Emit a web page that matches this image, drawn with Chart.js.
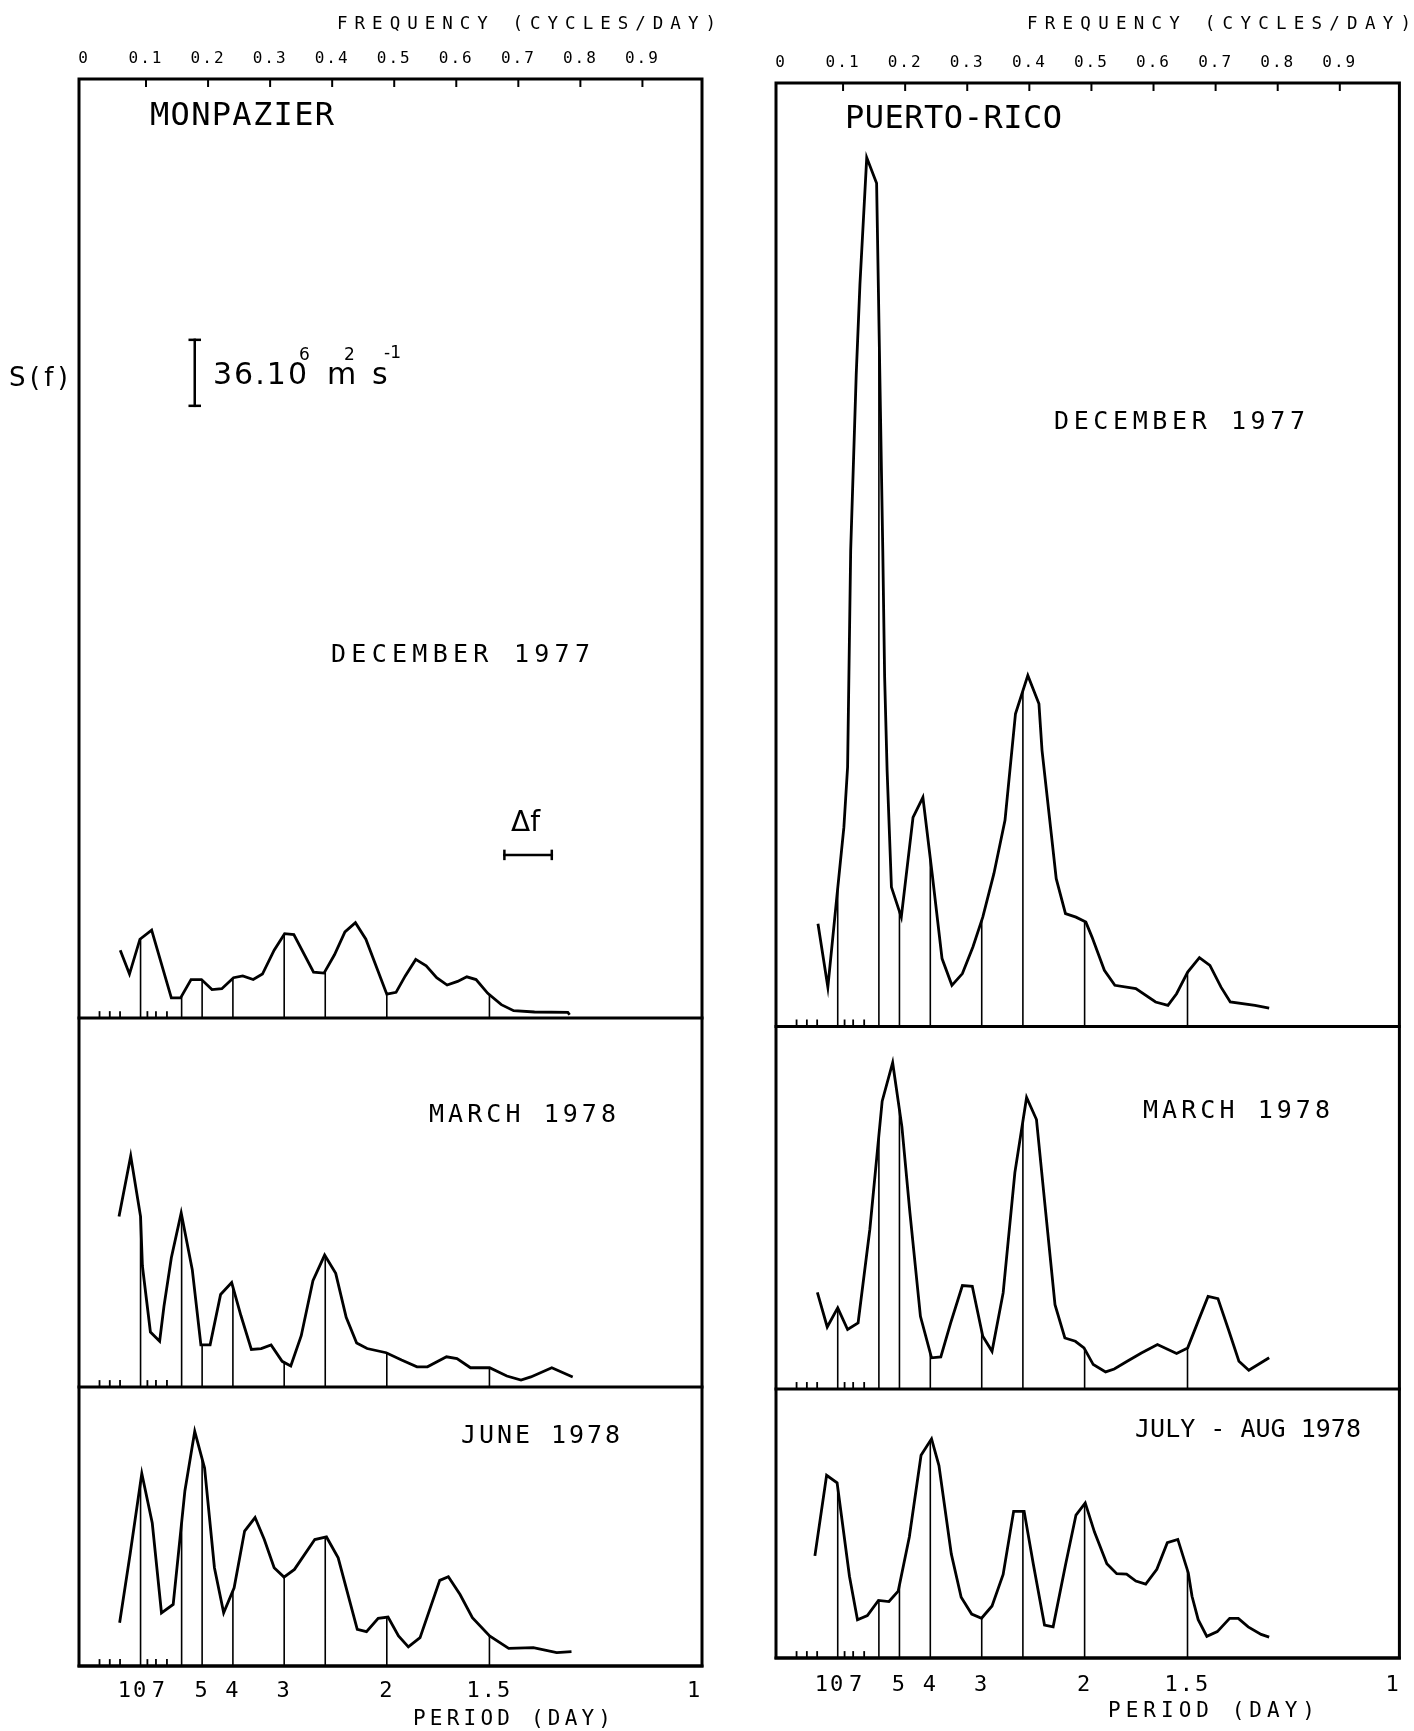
<!DOCTYPE html>
<html>
<head>
<meta charset="utf-8">
<script src="https://cdn.jsdelivr.net/npm/chart.js@4.4.1/dist/chart.umd.min.js"></script>
<style>
  body { margin: 0; background: #fff; width: 1414px; height: 1731px; position: relative; overflow: hidden; }
  .wrap { position: absolute; top: 0; height: 1731px; }
  .lbl { position: absolute; white-space: nowrap; color: #000; line-height: 1; font-family: "DejaVu Sans Mono", monospace; }
  .sans { font-family: "DejaVu Sans", sans-serif; }
</style>
</head>
<body>
<div class="wrap" style="left:0;width:720px"><canvas id="monpazier"></canvas></div>
<div class="wrap" style="left:720px;width:694px"><canvas id="puertoRico"></canvas></div>
<script>
// axis ticks
const freqTicks = [0, 0.1, 0.2, 0.3, 0.4, 0.5, 0.6, 0.7, 0.8, 0.9];
const periodTicks = [10, 7, 5, 4, 3, 2, 1.5, 1];
const periodLabels = ['10 ', '7 ', '5', '4', '3', '2', '1.5', '1'];
const minorPeriods = [30, 20, 15, 9, 8, 7];
// frequencies where the spectra are marked with a vertical line
const dropFreqs = [0.1, 0.1667, 0.2, 0.25, 0.3333, 0.4, 0.5, 0.6667];

// S(f), units of 10^6 m2 s-1
const monDecFreq = [0.067, 0.082, 0.099, 0.118, 0.150, 0.165, 0.182, 0.199, 0.216, 0.232, 0.251, 0.266, 0.283, 0.298, 0.317, 0.334, 0.349, 0.381, 0.398, 0.415, 0.432, 0.449, 0.466, 0.500, 0.515, 0.530, 0.547, 0.564, 0.581, 0.598, 0.615, 0.630, 0.645, 0.664, 0.686, 0.706, 0.740, 0.794, 0.797];
const monDecS = [37, 24, 43, 48, 11, 11, 21, 21, 15.5, 16, 22, 23, 21, 24, 37, 46, 45.5, 25, 24.5, 34.5, 47, 52, 43, 13, 14, 23, 32, 28.5, 22, 18, 20, 22.5, 21, 13.5, 7.3, 4, 3.3, 3.1, 1.8];

const monMarFreq = [0.065, 0.084, 0.100, 0.103, 0.116, 0.131, 0.138, 0.150, 0.166, 0.184, 0.198, 0.213, 0.230, 0.248, 0.263, 0.280, 0.296, 0.312, 0.330, 0.344, 0.361, 0.380, 0.399, 0.417, 0.434, 0.451, 0.468, 0.499, 0.524, 0.549, 0.566, 0.597, 0.614, 0.636, 0.667, 0.695, 0.718, 0.734, 0.768, 0.802];
const monMarS = [93, 126, 93, 66, 30, 25, 44, 70.5, 95, 64, 23, 23, 50.5, 57, 39, 20.5, 21, 23, 14, 11.5, 28, 58, 72, 62, 38, 24, 21, 18.7, 14.7, 11, 11, 16.5, 15.5, 10.5, 10.5, 6, 3.8, 5.5, 10.5, 5.5];

const monJunFreq = [0.066, 0.083, 0.102, 0.119, 0.134, 0.153, 0.172, 0.188, 0.204, 0.220, 0.235, 0.252, 0.269, 0.286, 0.301, 0.317, 0.333, 0.350, 0.383, 0.402, 0.421, 0.452, 0.467, 0.486, 0.502, 0.519, 0.535, 0.554, 0.586, 0.600, 0.619, 0.639, 0.667, 0.698, 0.738, 0.776, 0.800];
const monJunS = [23.6, 61, 105, 78, 29, 33.6, 95.5, 128, 108, 53.6, 29, 42.7, 73.6, 81, 69, 53.6, 48.5, 52.7, 69, 70.4, 59, 20, 18.7, 26, 26.7, 16.4, 10.4, 15.5, 46.7, 48.7, 39, 26.4, 16.4, 9.6, 10, 7.3, 7.8];

const prDecFreq = [0.068, 0.084, 0.098, 0.110, 0.116, 0.121, 0.130, 0.136, 0.147, 0.163, 0.173, 0.176, 0.180, 0.187, 0.203, 0.222, 0.238, 0.253, 0.269, 0.285, 0.302, 0.319, 0.335, 0.353, 0.371, 0.388, 0.408, 0.426, 0.431, 0.446, 0.454, 0.469, 0.486, 0.502, 0.512, 0.532, 0.549, 0.583, 0.615, 0.635, 0.649, 0.667, 0.686, 0.703, 0.721, 0.736, 0.776, 0.799];
const prDecS = [56, 21.4, 68.7, 108.7, 141.5, 259.7, 356, 405, 474, 460, 259.7, 190.6, 139.7, 76, 59.6, 114, 125, 83.3, 37, 22.4, 28.8, 43.3, 59.6, 83.3, 112.4, 170.6, 191.5, 176, 150.6, 105, 80.6, 61.5, 59.6, 56.9, 48.7, 30.6, 22.4, 20.6, 13.3, 11.5, 17.8, 29.6, 37.5, 33.3, 21.4, 13.3, 11.5, 10];

const prMarFreq = [0.067, 0.083, 0.100, 0.116, 0.133, 0.152, 0.172, 0.189, 0.204, 0.217, 0.234, 0.252, 0.267, 0.283, 0.302, 0.318, 0.335, 0.350, 0.368, 0.387, 0.406, 0.422, 0.436, 0.452, 0.468, 0.485, 0.499, 0.514, 0.534, 0.548, 0.569, 0.592, 0.618, 0.649, 0.667, 0.684, 0.700, 0.716, 0.733, 0.750, 0.766, 0.799];
const prMarS = [52.7, 33.8, 44.2, 32.4, 36, 87, 157, 178, 143, 96, 39.6, 17, 17.5, 36, 56.4, 56, 28.7, 20.5, 52.4, 118, 159, 147, 99.6, 46, 27.8, 26, 22.4, 13.3, 9.3, 10.9, 15.1, 19.6, 24.2, 19.3, 22.4, 37, 50.5, 49.3, 32.4, 15.1, 10.2, 17];

const prJulFreq = [0.063, 0.082, 0.099, 0.119, 0.132, 0.148, 0.166, 0.183, 0.198, 0.216, 0.235, 0.252, 0.264, 0.284, 0.300, 0.317, 0.333, 0.350, 0.368, 0.385, 0.402, 0.417, 0.435, 0.449, 0.469, 0.486, 0.501, 0.516, 0.536, 0.552, 0.568, 0.583, 0.599, 0.617, 0.634, 0.651, 0.668, 0.674, 0.684, 0.698, 0.715, 0.735, 0.749, 0.765, 0.786, 0.799];
const prJulS = [55.7, 99.7, 95.6, 44.6, 20.9, 23.1, 31.4, 30.8, 36.5, 66, 110.6, 119.6, 105, 56.8, 33.1, 24, 21.7, 28.4, 45.6, 80, 80, 51, 18, 17, 50.7, 78, 84.6, 68.7, 51.4, 46, 45.8, 42, 40.3, 48.4, 62.9, 64.7, 46.4, 33.7, 20.9, 11.8, 14.4, 21.6, 21.6, 17, 12.9, 11.4];

const MONO = 'DejaVu Sans Mono';

function pts(freq, s) {
  return freq.map((f, i) => ({ x: f, y: s[i] }));
}

// curve height at f (for the vertical marker lines)
function valueAt(freq, s, f) {
  for (let i = 0; i < freq.length - 1; i++) {
    if (freq[i] <= f && f <= freq[i + 1]) {
      return s[i] + (s[i + 1] - s[i]) * (f - freq[i]) / (freq[i + 1] - freq[i]);
    }
  }
  return null;
}

function dropPts(freq, s) {
  const out = [];
  dropFreqs.forEach(f => {
    const v = valueAt(freq, s, f);
    if (v === null) return;
    out.push({ x: f, y: 0 }, { x: f, y: v }, { x: f, y: null });
  });
  return out;
}

function seg(ctx, x1, y1, x2, y2) {
  ctx.beginPath();
  ctx.moveTo(x1, y1);
  ctx.lineTo(x2, y2);
  ctx.stroke();
}

const framePlugin = {
  id: 'frame',
  beforeDraw(chart) {
    chart.ctx.letterSpacing = '2px';
  },
  afterDraw(chart, args, opts) {
    const { ctx, chartArea: a, scales } = chart;
    ctx.save();
    ctx.strokeStyle = '#000';
    ctx.lineCap = 'square';
    ctx.lineWidth = 3;
    ctx.strokeRect(a.left, a.top, a.right - a.left, a.bottom - a.top);
    // panel baselines + minor period marks
    opts.panels.forEach(id => {
      const y = scales[id].getPixelForValue(0);
      ctx.lineWidth = 3;
      seg(ctx, a.left, y, a.right, y);
      ctx.lineWidth = 1.8;
      minorPeriods.forEach(p => {
        const x = scales.x.getPixelForValue(1 / p);
        seg(ctx, x, y, x, y - 6);
      });
    });
    // frequency ticks along the top edge
    ctx.lineWidth = 2;
    freqTicks.slice(1).forEach(f => {
      const x = scales.xTop.getPixelForValue(f);
      seg(ctx, x, a.top, x, a.top + 7);
    });
    if (opts.scaleBar) {
      const yS = scales[opts.panels[0]];
      const xs = scales.x;
      const b = opts.scaleBar;
      const x = xs.getPixelForValue(b.f);
      const y0 = yS.getPixelForValue(b.from), y1 = yS.getPixelForValue(b.from + b.len);
      ctx.lineWidth = 2.5;
      seg(ctx, x, y0, x, y1);
      seg(ctx, x - 5, y0, x + 5, y0);
      seg(ctx, x - 5, y1, x + 5, y1);
      const d = opts.deltaF;
      const xa = xs.getPixelForValue(d.f0), xb = xs.getPixelForValue(d.f1);
      const yd = yS.getPixelForValue(d.y);
      seg(ctx, xa, yd, xb, yd);
      seg(ctx, xa, yd - 4, xa, yd + 4);
      seg(ctx, xb, yd - 4, xb, yd + 4);
    }
    ctx.restore();
  }
};

function buildChart(canvasId, panels, g) {
  const scales = {
    x: {
      type: 'linear', position: 'bottom', min: 0, max: g.fmax,
      afterBuildTicks: s => { s.ticks = periodTicks.map(p => ({ value: 1 / p })); },
      ticks: {
        callback: (v, i) => periodLabels[i],
        autoSkip: false, maxRotation: 0, padding: g.bottomPad, color: '#000',
        font: { family: MONO, size: 22 }
      },
      grid: { display: false, drawTicks: false },
      border: { display: false },
      afterFit: s => { s.height = g.bottom; }
    },
    xTop: {
      type: 'linear', position: 'top', min: -0.008, max: 0.996,
      afterBuildTicks: s => { s.ticks = freqTicks.map(v => ({ value: v })); },
      ticks: {
        callback: v => (v === 0 ? '0' : v.toFixed(1)),
        autoSkip: false, maxRotation: 0, padding: 11, color: '#000',
        font: { family: MONO, size: 16 }
      },
      grid: { display: false, drawTicks: false },
      border: { display: false },
      afterFit: s => { s.height = g.top; }
    }
  };
  const datasets = [];
  panels.forEach((p, k) => {
    scales[p.id] = {
      type: 'linear', position: 'left', stack: 'panels', stackWeight: p.max, weight: panels.length - k,
      min: 0, max: p.max,
      ticks: { display: false },
      grid: { display: false, drawTicks: false },
      border: { display: false },
      afterFit: s => { s.width = g.left; }
    };
    datasets.push({
      data: pts(p.freq, p.s), xAxisID: 'x', yAxisID: p.id, showLine: true,
      borderColor: '#000', borderWidth: 2.8, pointRadius: 0, tension: 0
    });
    datasets.push({
      data: dropPts(p.freq, p.s), xAxisID: 'x', yAxisID: p.id, showLine: true, spanGaps: false,
      borderColor: '#000', borderWidth: 1.6, pointRadius: 0
    });
  });
  return new Chart(document.getElementById(canvasId), {
    type: 'scatter',
    data: { datasets },
    options: {
      responsive: true,
      maintainAspectRatio: false,
      animation: false,
      events: [],
      layout: { padding: { right: g.right } },
      plugins: {
        legend: { display: false },
        tooltip: { enabled: false },
        frame: { panels: panels.map(p => p.id), scaleBar: g.scaleBar, deltaF: g.deltaF }
      },
      scales
    },
    plugins: [framePlugin]
  });
}

buildChart('monpazier', [
  { id: 'yDec', freq: monDecFreq, s: monDecS, max: 512.3 },
  { id: 'yMar', freq: monMarFreq, s: monMarS, max: 201.3 },
  { id: 'yJun', freq: monJunFreq, s: monJunS, max: 152.2 }
], {
  left: 79, right: 18, top: 79, bottom: 65, bottomPad: 12, fmax: 1.012,
  scaleBar: { f: 0.188, from: 334, len: 36 },
  deltaF: { f0: 0.691, f1: 0.768, y: 89 }
});

buildChart('puertoRico', [
  { id: 'yDec', freq: prDecFreq, s: prDecS, max: 514.7 },
  { id: 'yMar', freq: prMarFreq, s: prMarS, max: 197.8 },
  { id: 'yJul', freq: prJulFreq, s: prJulS, max: 146.8 }
], {
  left: 56, right: 12, top: 83, bottom: 73, bottomPad: 14, fmax: 1.01
});

// text labels: [text, left, centre y, width to fit (0 = natural), size, class]
const labels = [
  ['FREQUENCY (CYCLES/DAY)', 337, 24, 379, 17.5, ''],
  ['FREQUENCY (CYCLES/DAY)', 1027, 24, 384, 17.5, ''],
  ['MONPAZIER', 150, 114, 184, 32, ''],
  ['PUERTO-RICO', 845, 117, 217, 32, ''],
  ['DECEMBER 1977', 331, 653, 259, 25, ''],
  ['MARCH 1978', 429, 1113, 187, 25, ''],
  ['JUNE 1978', 461, 1434, 159, 25, ''],
  ['DECEMBER 1977', 1054, 420, 251, 25, ''],
  ['MARCH 1978', 1143, 1109, 187, 25, ''],
  ['JULY - AUG 1978', 1135, 1428, 226, 25, ''],
  ['PERIOD (DAY)', 413, 1718, 198, 21, ''],
  ['PERIOD (DAY)', 1108, 1710, 207, 21, ''],
  ['S(f)', 9, 377, 59, 26, 'sans'],
  ['36.10', 213, 374, 94, 30, 'sans'],
  ['6', 299, 354, 0, 17, 'sans'],
  ['m', 327, 374, 0, 30, 'sans'],
  ['2', 344, 354, 0, 17, 'sans'],
  ['s', 372, 374, 0, 30, 'sans'],
  ['-1', 384, 352, 0, 17, 'sans'],
  ['\u0394f', 511, 822, 0, 28, 'sans']
];

labels.forEach(([text, x, cy, w, size, cls]) => {
  const el = document.createElement('div');
  el.className = 'lbl ' + cls;
  el.textContent = text;
  el.style.fontSize = size + 'px';
  el.style.left = x + 'px';
  document.body.appendChild(el);
  if (w && text.length > 1) {
    const natural = el.getBoundingClientRect().width;
    el.style.letterSpacing = ((w - natural) / (text.length - 1)) + 'px';
  }
  el.style.top = (cy - el.getBoundingClientRect().height / 2) + 'px';
});
</script>
</body>
</html>
